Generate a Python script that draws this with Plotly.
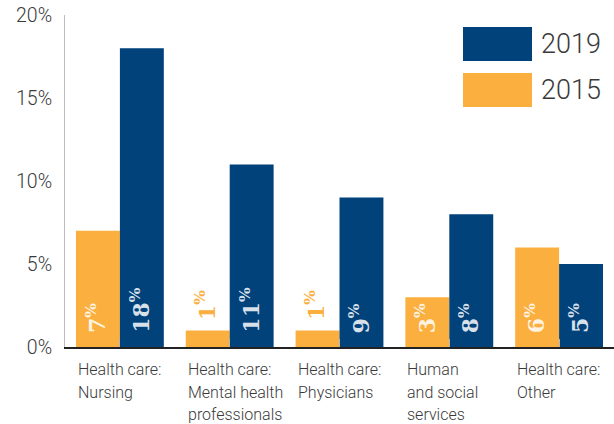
import plotly.graph_objects as go

# Share of job postings by occupation group
categories = ["Health care:<br>Nursing",
              "Health care:<br>Mental health<br>professionals",
              "Health care:<br>Physicians",
              "Human<br>and social<br>services",
              "Health care:<br>Other"]
values_2015 = [7, 1, 1, 3, 6]
values_2019 = [18, 11, 9, 8, 5]
y_ticks = [0, 5, 10, 15, 20]
y_tick_text = [f"{v}%" for v in y_ticks]

ORANGE = "#FBAF3F"
NAVY = "#01427B"
TEXT = "#3a3a3a"
LABEL_FONT = "DejaVu Serif"
BAR_GAP = 0.2

x = list(range(len(categories)))
series = [("2015", values_2015, ORANGE), ("2019", values_2019, NAVY)]
bar_w = (1 - BAR_GAP) / len(series)

fig = go.Figure()
annotations = []
for s, (name, vals, color) in enumerate(series):
    fig.add_trace(go.Bar(
        x=x, y=vals, name=name, marker=dict(color=color, line=dict(width=0)),
        hoverinfo="skip",
    ))
    # value labels, rotated, sitting at the foot of each bar (above it when too short)
    offset = -(1 - BAR_GAP) / 2 + bar_w * (s + 0.5)
    for i, v in enumerate(vals):
        inside = v >= 2
        annotations.append(dict(
            x=i + offset, xref="x", y=0 if inside else v, yref="y",
            xanchor="center", yanchor="bottom", yshift=12 if inside else 8,
            xshift=-2,
            text=f"<b>{v}<sup>%</sup></b>", textangle=-90, showarrow=False,
            font=dict(family=LABEL_FONT, size=22,
                      color="rgba(255,255,255,0.85)" if inside else color),
        ))

# Category labels, left-aligned under each bar pair, one line at a time
for i, label in enumerate(categories):
    for k, line in enumerate(label.split("<br>")):
        annotations.append(dict(
            x=i - (1 - BAR_GAP) / 2, xref="x", y=0, yref="paper",
            xanchor="left", yanchor="top",
            yshift=-11 - 22.5 * k, text=line, showarrow=False, align="left",
            font=dict(family="Roboto", size=16, color=TEXT, weight=300),
        ))

# Legend drawn as large swatches in the top-right corner
legend_items = [("2019", NAVY), ("2015", ORANGE)]
shapes = []
for k, (name, color) in enumerate(legend_items):
    top = 1 - (12 + 46 * k) / 332
    bottom = top - 34 / 332
    shapes.append(dict(type="rect", xref="paper", yref="paper",
                       x0=(463 - 65) / 549, x1=(532 - 65) / 549, y0=bottom, y1=top,
                       fillcolor=color, line=dict(width=0), layer="above"))
    annotations.append(dict(
        x=(539 - 65) / 549, xref="paper", y=(top + bottom) / 2, yref="paper",
        xanchor="left", yanchor="middle", text=name, showarrow=False,
        font=dict(family="Roboto", size=27, color=TEXT, weight=300),
    ))

fig.update_layout(
    width=614, height=424,
    margin=dict(l=65, r=0, t=15, b=77),
    paper_bgcolor="white", plot_bgcolor="white",
    barmode="group", bargap=BAR_GAP, bargroupgap=0,
    showlegend=False,
    shapes=shapes, annotations=annotations,
    xaxis=dict(range=[-0.5, len(categories) - 0.5], tickmode="array", tickvals=x,
               showticklabels=False, tickson="boundaries", ticks="inside",
               ticklen=8, tickcolor="#b5b5b5", tickwidth=1,
               showline=True, linecolor="#222222", linewidth=2,
               showgrid=False, zeroline=False, fixedrange=True),
    yaxis=dict(range=[0, 20], tickmode="array", tickvals=y_ticks, ticktext=y_tick_text,
               showgrid=False, zeroline=False, showline=True, linecolor="#bdbdbd",
               linewidth=1, ticks="", ticklabelstandoff=8,
               tickfont=dict(family="Roboto", size=19.5, color=TEXT, weight=300),
               fixedrange=True),
)

fig.write_html("out.html")
